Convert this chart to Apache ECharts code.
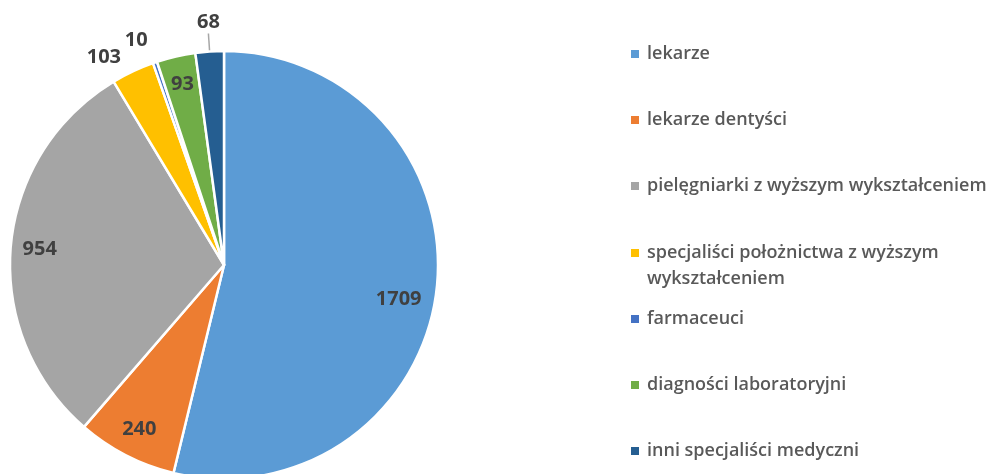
<!DOCTYPE html>
<html>
<head>
<meta charset="utf-8">
<script src="https://cdn.jsdelivr.net/npm/echarts@6/dist/echarts.min.js"></script>
<style>
html, body { margin: 0; padding: 0; background: #fff; }
#chart { width: 996px; height: 474px; }
</style>
</head>
<body>
<div id="chart"></div>
<script>
const names = [
    'lekarze',
    'lekarze dentyści',
    'pielęgniarki z wyższym wykształceniem',
    'specjaliści położnictwa z wyższym\nwykształceniem',
    'farmaceuci',
    'diagności laboratoryjni',
    'inni specjaliści medyczni'
]
const values = [1709, 240, 954, 103, 10, 93, 68]
const colors = ['#5B9BD5', '#ED7D31', '#A5A5A5', '#FFC000', '#4472C4', '#70AD47', '#255E91']

// labels Excel put outside of the pie
const outside = { 3: { len: 16, dist: 5 }, 4: { len: 23, dist: 0 }, 6: { len: 18, dist: 0, line: true } }

const font = 'Open Sans'
const cx = 224, cy = 265, R = 214

const chartDom = document.getElementById('chart')
const myChart = echarts.init(chartDom)

const mainData = names.map((n, i) => {
    const o = outside[i]
    return {
        name: n,
        value: values[i],
        itemStyle: { color: colors[i] },
        label: { show: !!o, distanceToLabelLine: o ? o.dist : 5 },
        labelLine: { show: !!(o && o.line), length: o ? o.len : 10, length2: 0 }
    }
})
const ringData = names.map((n, i) => ({
    name: n,
    value: values[i],
    label: { show: !outside[i] }
}))

const legendText = { color: '#595959', fontSize: 18, fontWeight: 600, fontFamily: font, lineHeight: 26, padding: [0, 0, 0, 3] }
const legendBase = {
    orient: 'vertical',
    left: 631,
    padding: 0,
    itemWidth: 8,
    itemHeight: 8,
    itemGap: 40,
    icon: 'rect',
    itemStyle: { borderWidth: 0 },
    selectedMode: false,
    textStyle: legendText
}

const option = {
    animation: false,
    legend: [
        Object.assign({}, legendBase, { top: 41, data: names.slice(0, 3) }),
        // empty first line keeps the marker level with the first text line
        Object.assign({}, legendBase, { top: 214, data: names.slice(3, 4), formatter: n => '\n' + n }),
        Object.assign({}, legendBase, { top: 306, data: names.slice(4) })
    ],
    series: [
        {
            name: 'main',
            type: 'pie',
            center: [cx, cy],
            radius: [0, R],
            startAngle: 90,
            avoidLabelOverlap: false,
            itemStyle: { borderColor: '#fff', borderWidth: 2.5 },
            label: {
                position: 'outside',
                color: '#404040',
                fontSize: 20,
                fontWeight: 'bold',
                fontFamily: font,
                formatter: '{c}'
            },
            labelLine: { lineStyle: { color: '#A6A6A6', width: 1.5 } },
            labelLayout: function (params) {
                if (params.dataIndex === 6) {
                    return { align: 'center', verticalAlign: 'bottom', dy: -1 }
                }
            },
            emphasis: { disabled: true },
            data: mainData
        },
        {
            // transparent ring, only used to put the inner labels near the rim
            name: 'labels',
            type: 'pie',
            center: [cx, cy],
            radius: [150, R],
            startAngle: 90,
            silent: true,
            itemStyle: { color: 'rgba(0,0,0,0)', borderWidth: 0 },
            label: {
                position: 'inside',
                color: '#404040',
                fontSize: 20,
                fontWeight: 'bold',
                fontFamily: font,
                formatter: '{c}'
            },
            labelLine: { show: false },
            // excel nudges the big label a bit lower
            labelLayout: function (params) {
                if (params.dataIndex === 0) {
                    return { dx: -9, dy: 12 }
                }
            },
            emphasis: { disabled: true },
            data: ringData
        }
    ]
}
myChart.setOption(option)
</script>
</body>
</html>
